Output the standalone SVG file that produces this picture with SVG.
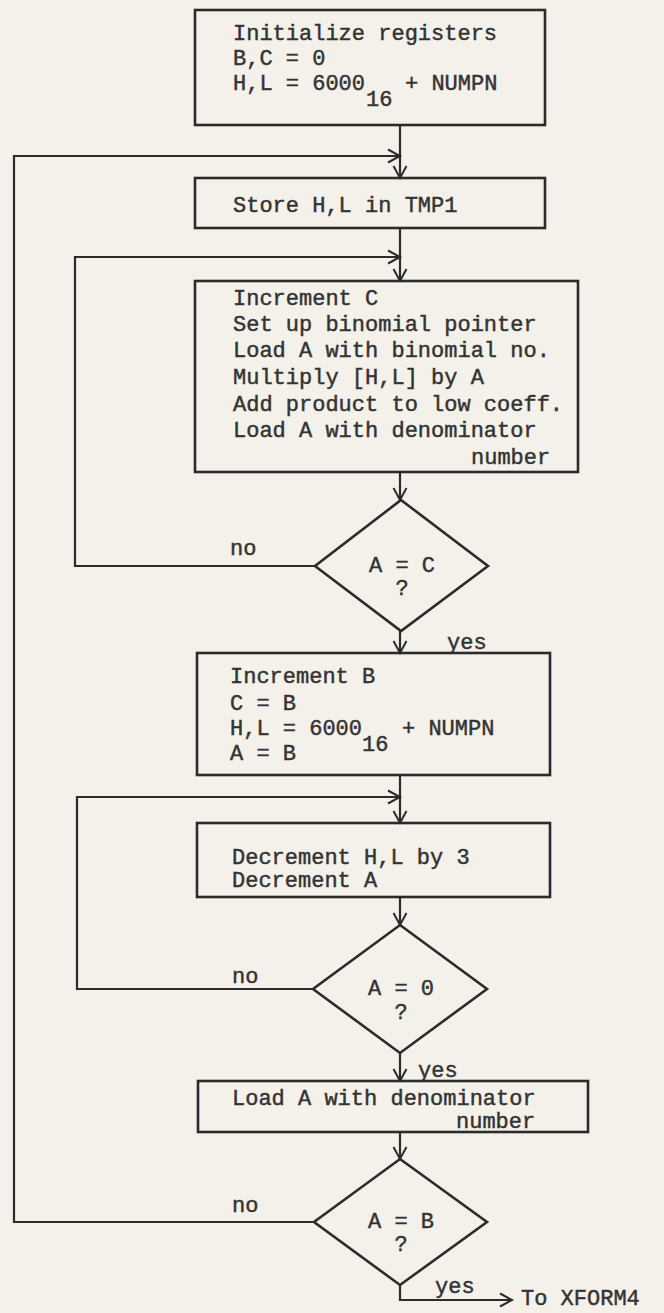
<svg xmlns="http://www.w3.org/2000/svg" width="664" height="1313" viewBox="0 0 664 1313">
<style>
.bg{fill:#f3f1ea}
.box{fill:none;stroke:#2b2b2b;stroke-width:2.6}
.ln{fill:none;stroke:#2b2b2b;stroke-width:2.2}
text{font-family:"Liberation Mono","Courier New",monospace;font-size:22px;fill:#333;stroke:#333;stroke-width:0.45}
.c{text-anchor:middle}
</style>
<defs>
<marker id="ah" markerWidth="16" markerHeight="16" refX="13" refY="8" orient="auto" markerUnits="userSpaceOnUse">
<path d="M1,1.5 L13,8 L1,14.5" fill="none" stroke="#2b2b2b" stroke-width="2"/>
</marker>
</defs>
<rect class="bg" x="0" y="0" width="664" height="1313"/>

<g id="connectors">
<line class="ln" x1="400" y1="125" x2="400" y2="178" marker-end="url(#ah)"/>
<polyline class="ln" points="314,1222 14,1222 14,156 400,156" marker-end="url(#ah)"/>
<line class="ln" x1="400" y1="228" x2="400" y2="281" marker-end="url(#ah)"/>
<polyline class="ln" points="315,566 75,566 75,257 400,257" marker-end="url(#ah)"/>
<line class="ln" x1="400" y1="472" x2="400" y2="500" marker-end="url(#ah)"/>
<line class="ln" x1="400" y1="631" x2="400" y2="653" marker-end="url(#ah)"/>
<line class="ln" x1="400" y1="775" x2="400" y2="823" marker-end="url(#ah)"/>
<polyline class="ln" points="313,989 77,989 77,797 400,797" marker-end="url(#ah)"/>
<line class="ln" x1="400" y1="897" x2="400" y2="925" marker-end="url(#ah)"/>
<line class="ln" x1="400" y1="1053" x2="400" y2="1081" marker-end="url(#ah)"/>
<line class="ln" x1="400" y1="1132" x2="400" y2="1159" marker-end="url(#ah)"/>
<polyline class="ln" points="400,1285 400,1300 512,1300" marker-end="url(#ah)"/>
<text x="230" y="555">no</text>
<text x="447" y="649">yes</text>
<text x="232" y="983">no</text>
<text x="418" y="1077">yes</text>
<text x="232" y="1212">no</text>
<text x="435" y="1293">yes</text>
<text x="521" y="1305">To XFORM4</text>
</g>

<g id="init">
<rect class="box" x="195" y="10" width="350" height="115"/>
<text x="233" y="40">Initialize registers</text>
<text x="233" y="65">B,C = 0</text>
<text x="233" y="90">H,L = 6000</text>
<text x="366" y="106">16</text>
<text x="405" y="90">+ NUMPN</text>
</g>

<g id="store">
<rect class="box" x="195" y="178" width="350" height="50"/>
<text x="233" y="212">Store H,L in TMP1</text>
</g>

<g id="incC">
<rect class="box" x="195" y="281" width="383" height="191"/>
<text x="233" y="305">Increment C</text>
<text x="233" y="331">Set up binomial pointer</text>
<text x="233" y="357">Load A with binomial no.</text>
<text x="233" y="384">Multiply [H,L] by A</text>
<text x="233" y="411">Add product to low coeff.</text>
<text x="233" y="437">Load A with denominator</text>
<text x="471" y="464">number</text>
</g>

<g id="dAC">
<polygon class="box" points="401,500 488,566 401,631 315,566"/>
<text class="c" x="402" y="572">A = C</text>
<text class="c" x="402" y="595">?</text>
</g>

<g id="incB">
<rect class="box" x="197" y="653" width="353" height="122"/>
<text x="230" y="683">Increment B</text>
<text x="230" y="710">C = B</text>
<text x="230" y="735">H,L = 6000</text>
<text x="362" y="751">16</text>
<text x="402" y="735">+ NUMPN</text>
<text x="230" y="760">A = B</text>
</g>

<g id="decHL">
<rect class="box" x="197" y="823" width="353" height="74"/>
<text x="232" y="864">Decrement H,L by 3</text>
<text x="232" y="887">Decrement A</text>
</g>

<g id="dA0">
<polygon class="box" points="400,925 487,989 400,1053 313,989"/>
<text class="c" x="401" y="995">A = 0</text>
<text class="c" x="401" y="1019">?</text>
</g>

<g id="loadA">
<rect class="box" x="198" y="1081" width="390" height="51"/>
<text x="232" y="1105">Load A with denominator</text>
<text x="456" y="1128">number</text>
</g>

<g id="dAB">
<polygon class="box" points="400,1159 487,1222 400,1285 314,1222"/>
<text class="c" x="401" y="1228">A = B</text>
<text class="c" x="401" y="1251">?</text>
</g>
</svg>
